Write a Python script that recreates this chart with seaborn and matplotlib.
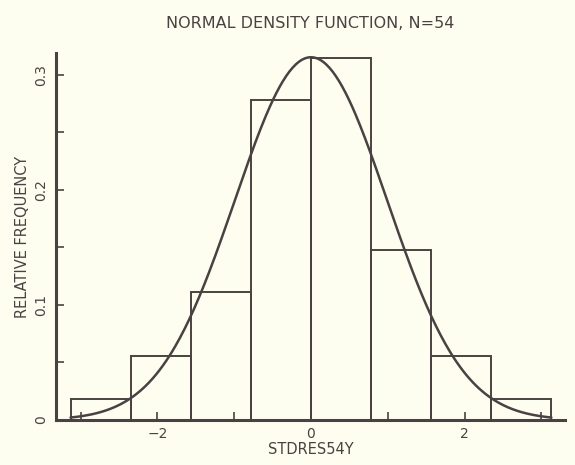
import numpy as np
import pandas as pd
import matplotlib
matplotlib.use("Agg")
import matplotlib.pyplot as plt
import seaborn as sns

# ---- data ----
bin_edges = [-3.13, -2.35, -1.565, -0.78, 0.0, 0.78, 1.565, 2.35, 3.13]
rel_freq = [0.0185, 0.0556, 0.111, 0.278, 0.315, 0.148, 0.0556, 0.0185]
fit_mean = 0.0
fit_sd = 0.99
title_text = "NORMAL DENSITY FUNCTION, N=54"
x_label = "STDRES54Y"
y_label = "RELATIVE FREQUENCY"
x_ticks = [-3, -2, -1, 0, 1, 2, 3]
x_tick_labels = ["", "\u22122", "", "0", "", "2", ""]
y_ticks = [0, 0.05, 0.1, 0.15, 0.2, 0.25, 0.3]
y_tick_labels = ["0", "", "0.1", "", "0.2", "", "0.3"]

bg = "#fdfdf0"
ink = "#4a4242"

sns.set_theme(style="white")
plt.rcParams["font.family"] = ["DejaVu Sans"]

fig = plt.figure(figsize=(5.75, 4.65), dpi=100, facecolor=bg)
ax = fig.add_axes([0.0974, 0.0968, 0.8856, 0.7892])
ax.set_facecolor(bg)

centers = [(bin_edges[i] + bin_edges[i + 1]) / 2 for i in range(len(rel_freq))]
df = pd.DataFrame({"x": centers, "w": rel_freq})
sns.histplot(data=df, x="x", weights="w", bins=bin_edges, stat="count",
             fill=False, element="bars", color=ink, linewidth=1.4, ax=ax)

# normal density scaled to the bin width
bw = (bin_edges[-1] - bin_edges[0]) / len(rel_freq)
xs = np.linspace(bin_edges[0], bin_edges[-1], 300)
ys = bw * np.exp(-0.5 * ((xs - fit_mean) / fit_sd) ** 2) / (fit_sd * np.sqrt(2 * np.pi))
sns.lineplot(x=xs, y=ys, color=ink, linewidth=1.8, ax=ax)

ax.set_xlim(-3.32, 3.31)
ax.set_ylim(0, 0.319)

for s in ["top", "right"]:
    ax.spines[s].set_visible(False)
for s in ["left", "bottom"]:
    ax.spines[s].set_color(ink)
    ax.spines[s].set_linewidth(2.2)

ax.set_xticks(x_ticks)
ax.set_xticklabels(x_tick_labels)
ax.set_yticks(y_ticks)
ax.set_yticklabels(y_tick_labels, rotation=90, va="center")
ax.tick_params(axis="both", direction="in", length=6, width=1.2, color=ink,
               labelcolor=ink, labelsize=10, bottom=True, left=True)
ax.tick_params(axis="x", pad=5)
ax.tick_params(axis="y", pad=6)

ax.set_xlabel(x_label, color=ink, fontsize=10.5, labelpad=1)
ax.set_ylabel(y_label, color=ink, fontsize=10.5, labelpad=3)
ax.set_title(title_text, color=ink, fontsize=11.5, pad=18)

fig.savefig("out.png", dpi=100, facecolor=bg)
